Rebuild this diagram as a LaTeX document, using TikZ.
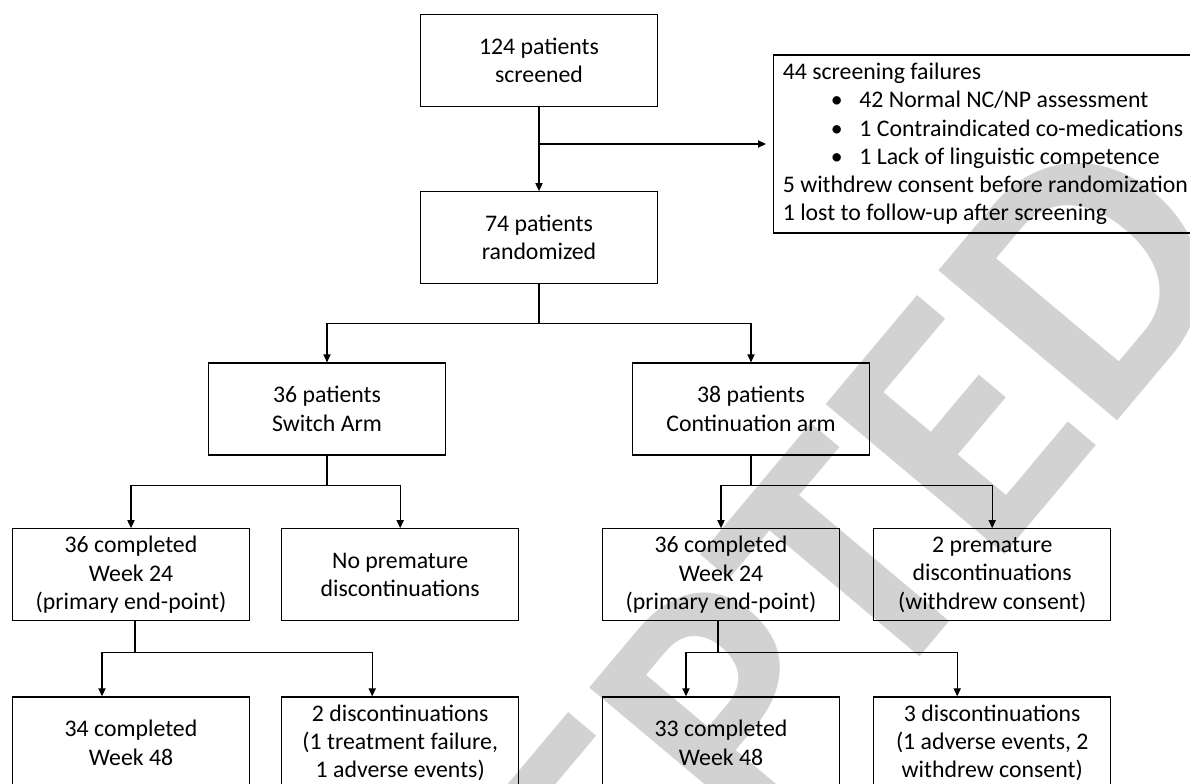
\documentclass[tikz,border=0pt]{standalone}
\usepackage{fontspec}
\setmainfont{Carlito}
\usetikzlibrary{arrows.meta,positioning,calc}
\definecolor{WMark}{RGB}{210,210,210}
\tikzset{
  box/.style={draw,line width=0.6pt,minimum width=118.5pt,minimum height=46pt,align=center,inner sep=2pt,font=\fontsize{11.9}{14.15}\selectfont},
  failbox/.style={draw,line width=0.6pt,text width=250pt,minimum height=89pt,align=flush left,inner xsep=4.6pt,font=\fontsize{11.9}{14.15}\selectfont},
  link/.style={->,>={Triangle[length=4pt,width=3.6pt]},line width=0.6pt},
  wmark/.style={text=WMark,font=\fontsize{180}{180}\selectfont\bfseries,rotate=50,anchor=base east,inner sep=0pt}
}

\begin{document}
\begin{tikzpicture}[x=0.5pt,y=-0.5pt]
\useasboundingbox (0,0) rectangle (1190,783);
\clip (0,0) rectangle (1190,783);
\node[wmark] (wm) at (1251,262) {ACCEPTED};
\node[box] (scr) at (539,60.5) {124 patients\\screened};
\node[box,below=42pt of scr] (rand) {74 patients\\randomized};
\node[failbox,anchor=west] (fail) at (773,144) {44 screening failures\\
\hspace*{24pt}\makebox[14.3pt][l]{\textbullet}42 Normal NC/NP assessment\\
\hspace*{24pt}\makebox[14.3pt][l]{\textbullet}1 Contraindicated co-medications\\
\hspace*{24pt}\makebox[14.3pt][l]{\textbullet}1 Lack of linguistic competence\\
5 withdrew consent before randomization\\
1 lost to follow-up after screening};
\node[box] (sw) at (327,409) {36 patients\\Switch Arm};
\node[box] (co) at (751,409) {38 patients\\Continuation arm};
\node[box] (c1) at (131,574.7) {36 completed\\Week 24\\(primary end-point)};
\node[box,right=15.5pt of c1] (n1) {No premature\\discontinuations};
\node[box] (c2) at (721,574.7) {36 completed\\Week 24\\(primary end-point)};
\node[box,right=16.5pt of c2] (p2) {2 premature\\discontinuations\\(withdrew consent)};
\node[box,below=37.5pt of c1] (d1) {34 completed\\Week 48};
\node[box,below=37.5pt of n1] (d2) {2 discontinuations\\(1 treatment failure,\\1 adverse events)};
\node[box,below=37.5pt of c2] (d3) {33 completed\\Week 48};
\node[box,below=37.5pt of p2] (d4) {3 discontinuations\\(1 adverse events, 2\\withdrew consent)};
\draw[link](scr)--(rand);
\draw[link,shorten >=3.5pt](scr.south |- fail.west)--(fail.west);
\draw[link](rand.south)--++(0,39)-|(sw.north);
\draw[link](rand.south)--++(0,39)-|(co.north);
\draw[link](sw.south)--++(0,30)-|(c1.north);
\draw[link](sw.south)--++(0,30)-|(n1.north);
\draw[link](co.south)--++(0,30)-|(c2.north);
\draw[link](co.south)--++(0,30)-|(p2.north);
\draw[link]([xshift=2pt]c1.south)--++(0,31.5)-|([xshift=-14.5pt]d1.north);
\draw[link]([xshift=2pt]c1.south)--++(0,31.5)-|([xshift=-14pt]d2.north);
\draw[link]([xshift=-1.5pt]c2.south)--++(0,31.5)-|([xshift=-17.5pt]d3.north);
\draw[link]([xshift=-1.5pt]c2.south)--++(0,31.5)-|([xshift=-17.5pt]d4.north);
\end{tikzpicture}
\end{document}
